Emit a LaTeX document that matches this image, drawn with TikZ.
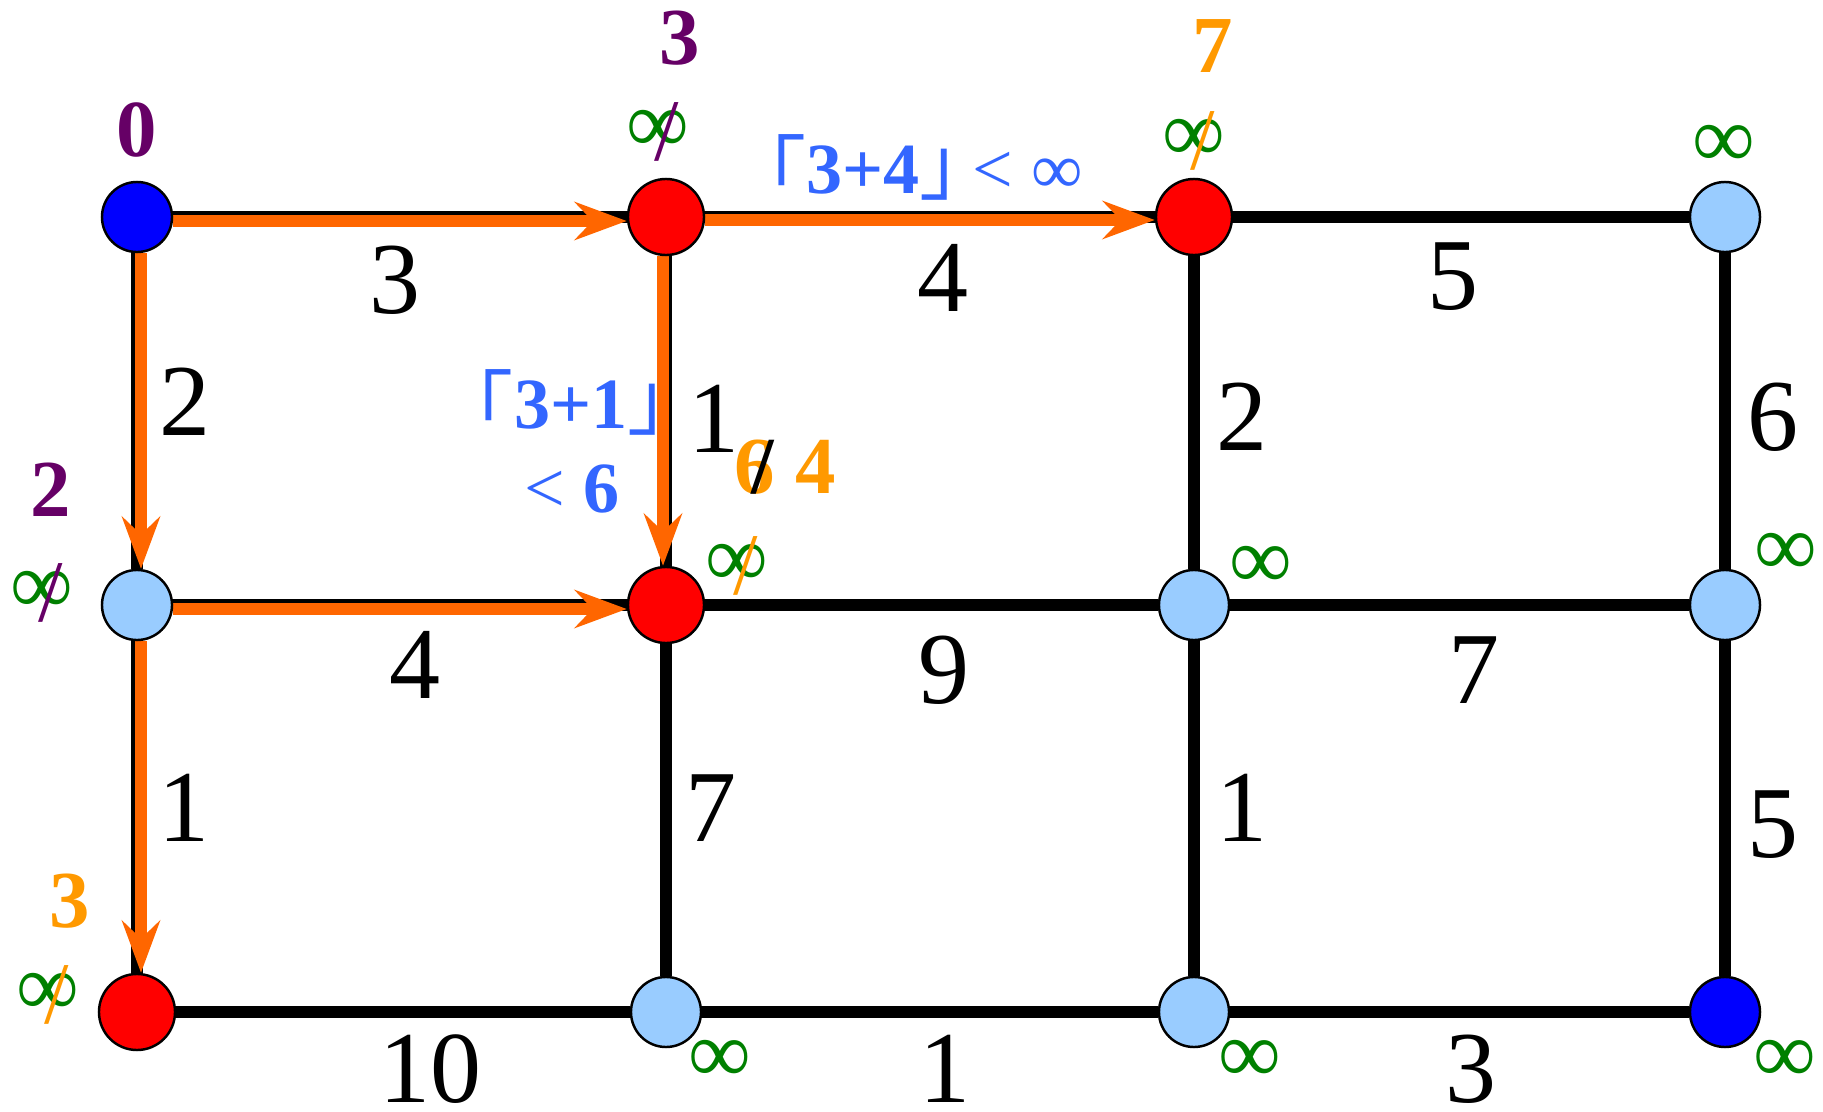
\documentclass[tikz,border=0pt]{standalone}
\usepackage{fontspec}
\setmainfont{Liberation Serif}
\newfontfamily\cjk{Noto Sans CJK SC}
\usetikzlibrary{arrows.meta,backgrounds}

\definecolor{startblue}{RGB}{0,0,255}
\definecolor{donered}{RGB}{255,0,0}
\definecolor{openblue}{RGB}{153,204,255}
\definecolor{pathorange}{RGB}{255,102,0}
\definecolor{neworange}{RGB}{255,153,0}
\definecolor{oldpurple}{RGB}{102,0,102}
\definecolor{infgreen}{RGB}{0,128,0}
\definecolor{calcblue}{RGB}{51,102,255}

\newcommand{\wfont}{\fontsize{29}{32}\selectfont}
\newcommand{\dfont}{\fontsize{23}{26}\selectfont\bfseries}
\newcommand{\ifont}{\fontsize{25}{28}\selectfont}
\newcommand{\cfont}{\fontsize{20.5}{24}\selectfont}
% a value with a slash over it
\newcommand{\crossed}[3][0pt]{\ooalign{\hfil#3\hfil\cr\hfil\kern0.2em\smash{\raisebox{#1}{\textcolor{#2}{/}}}\hfil\cr}}
% corner brackets
\newcommand{\lbr}{{\fontsize{22.5}{24}\cjk\kern-0.66em\raisebox{-0.11em}{「}}}
\newcommand{\rbr}[1]{{\fontsize{22.5}{24}\cjk」\kern#1}}

\begin{document}
\begin{tikzpicture}[x=0.01cm,y=-0.01cm,
  vertex/.style={circle,draw=black,line width=0.7pt,inner sep=0pt,minimum size=0.70cm},
  start/.style={vertex,fill=startblue},
  done/.style={vertex,fill=donered,minimum size=0.76cm},
  open/.style={vertex,fill=openblue},
  link/.style={line width=0.125cm,black},
  relax/.style={draw=pathorange,line width=0.12cm,-{Stealth[length=0.52cm,width=0.38cm,inset=0.18cm]}},
  weight/.style={font=\wfont,inner sep=0pt},
  dist/.style={font=\dfont,inner sep=0pt},
  inf/.style={font=\ifont,text=infgreen,inner sep=0pt},
  calc/.style={font=\cfont,text=calcblue,inner sep=0pt,anchor=base}]
\useasboundingbox (0,0) rectangle (1823,1112);

% grid vertices
\node[start] (v11) at (137,217) {};
\node[done]  (v12) at (666,217) {};
\node[done]  (v13) at (1194,217) {};
\node[open]  (v14) at (1725,217) {};
\node[open]  (v21) at (137,605) {};
\node[done]  (v22) at (666,605) {};
\node[open]  (v23) at (1194,605) {};
\node[open]  (v24) at (1725,605) {};
\node[done]  (v31) at (137,1012) {};
\node[open]  (v32) at (666,1012) {};
\node[open]  (v33) at (1194,1012) {};
\node[start] (v34) at (1725,1012) {};

\begin{scope}[on background layer]
% all edges
\foreach \r in {1,2,3}
  \foreach \a/\b in {1/2,2/3,3/4}
    \draw[link] (v\r\a) -- (v\r\b);
\foreach \c in {1,...,4}
  \foreach \a/\b in {1/2,2/3}
    \draw[link] (v\a\c) -- (v\b\c);
% relaxed edges
\draw[relax] ([yshift=-0.04cm]v11.east) -- ([yshift=-0.04cm]v12.west);
\draw[relax] ([yshift=-0.03cm]v12.east) -- ([yshift=-0.03cm]v13.west);
\draw[relax] ([xshift=0.04cm]v11.south) -- ([xshift=0.04cm]v21.north);
\draw[relax] ([xshift=0.04cm]v21.south) -- ([xshift=0.04cm]v31.north);
\draw[relax] ([yshift=-0.04cm]v21.east) -- ([yshift=-0.04cm]v22.west);
\draw[relax] ([xshift=-0.03cm]v12.south) -- ([xshift=-0.03cm]v22.north);
\end{scope}

% edge weights
\foreach \x/\y/\t/\n in {395/280/3/a, 943/278/4/b, 1453/277/5/c,
    185/402/2/d, 714/419/1/e, 1242/417/2/f, 1773/417/6/g,
    415/665/4/h, 944/670/9/i, 1474/670/7/j,
    184/808/1/k, 711/808/7/l, 1242/808/1/m, 1773/825/5/n,
    430/1069/10/o, 945/1069/1/p, 1471/1069/3/q}
  \node[weight] (w\n) at (\x,\y) {\t};

% distances
\node[dist,text=oldpurple] (d11) at (137,130) {0};
\node[dist,text=oldpurple] (d12) at (680,38) {3};
\node[dist,text=neworange] (d13) at (1213,46) {7};
\node[dist,text=oldpurple] (d21) at (51,490) {2};
\node[dist,text=neworange] (d31) at (70,901) {3};
\node[dist,text=neworange] (d22) at (785,467) {\crossed{black}{6}\ 4};

\node[inf] (i12) at (658,131) {\crossed[-0.09em]{oldpurple}{∞}};
\node[inf] (i13) at (1194,140) {\crossed[-0.09em]{neworange}{∞}};
\node[inf] (i14) at (1724,146) {∞};
\node[inf] (i21) at (42,592) {\crossed[-0.09em]{oldpurple}{∞}};
\node[inf] (i22) at (737,565) {\crossed[-0.09em]{neworange}{∞}};
\node[inf] (i23) at (1261,567) {∞};
\node[inf] (i24) at (1786,554) {∞};
\node[inf] (i31) at (48,994) {\crossed[-0.09em]{neworange}{∞}};
\node[inf] (i32) at (720,1061) {∞};
\node[inf] (i33) at (1250,1061) {∞};
\node[inf] (i34) at (1785,1061) {∞};

% comparisons
\node[calc] (c13) at (931,193) {\lbr\textbf{3+4}\rbr{-0.33em}< ∞};
\node[calc] (c22) at (571,428) {\lbr\textbf{3+1}\rbr{-0.65em}};
\node[calc] (c22b) at (572,512) {< \textbf{6}};
\end{tikzpicture}
\end{document}
